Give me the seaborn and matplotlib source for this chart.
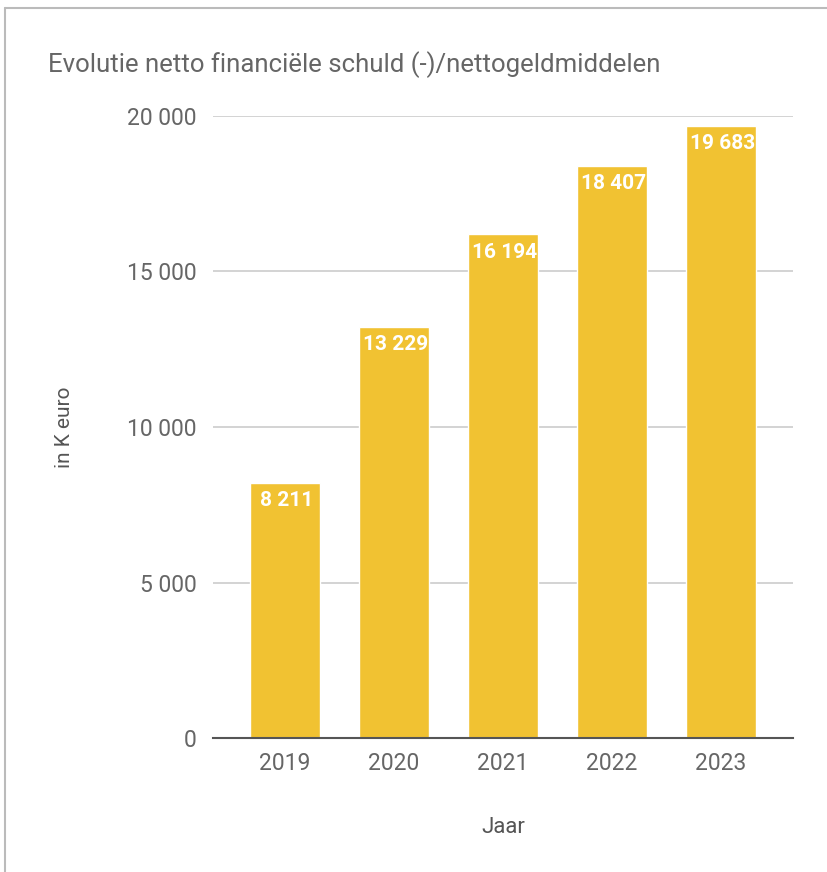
import matplotlib
matplotlib.use("Agg")
import matplotlib.pyplot as plt
import seaborn as sns
import pandas as pd
from matplotlib.lines import Line2D

years = ["2019", "2020", "2021", "2022", "2023"]
values = [8211, 13229, 16194, 18407, 19683]
yticks = [0, 5000, 10000, 15000, 20000]
ytick_labels = ["0", "5 000", "10 000", "15 000", "20 000"]
bar_labels = ["8 211", "13 229", "16 194", "18 407", "19 683"]

sns.set_theme(style="white")
plt.rcParams['font.family'] = ['Roboto', 'DejaVu Sans']

df = pd.DataFrame({"Jaar": years, "Waarde": values})

fig = plt.figure(figsize=(8.27, 8.72), dpi=100)
ax = fig.add_axes([213/827, 1-738/872, 580/827, (738-116)/872])

sns.barplot(data=df, x="Jaar", y="Waarde", color="#F1C232", width=0.64,
            saturation=1, ax=ax, zorder=3)

ax.set_ylim(0, 20000)
ax.set_xlim(-0.66, 4.66)
ax.set_yticks(yticks)
ax.set_yticklabels(ytick_labels)
ax.yaxis.grid(True, color="#cccccc", linewidth=1.2, zorder=0)
ax.xaxis.grid(False)
for s in ["top", "right", "left"]:
    ax.spines[s].set_visible(False)
ax.spines["bottom"].set_color("#555555")
ax.spines["bottom"].set_linewidth(1.5)
ax.spines["bottom"].set_zorder(4)
ax.tick_params(axis="both", length=0, labelsize=16.5, colors="#666666", pad=12)
ax.tick_params(axis="x", pad=10)

for i, (v, lab) in enumerate(zip(values, bar_labels)):
    ax.annotate(lab, (i, v), xytext=(1, -6), textcoords="offset points",
                ha="center", va="top", color="white", fontsize=15,
                fontweight="bold", zorder=5)

ax.set_xlabel("Jaar", fontsize=16, color="#555555", labelpad=30)
ax.set_ylabel("in K euro", fontsize=15, color="#555555", labelpad=0)
ax.yaxis.set_label_coords(-0.24, 0.5)

fig.text(48/827, 1-65/872, "Evolutie netto financiële schuld (-)/nettogeldmiddelen",
         fontsize=18.5, color="#666666", ha="left", va="center")

# outer frame
fig.add_artist(Line2D([5/827, 5/827], [0, 1-8/872], transform=fig.transFigure,
                      color="#bbbbbb", linewidth=1.5))
fig.add_artist(Line2D([5/827, 1], [1-8/872, 1-8/872], transform=fig.transFigure,
                      color="#bbbbbb", linewidth=1.5))

fig.savefig("out.png", dpi=100)
